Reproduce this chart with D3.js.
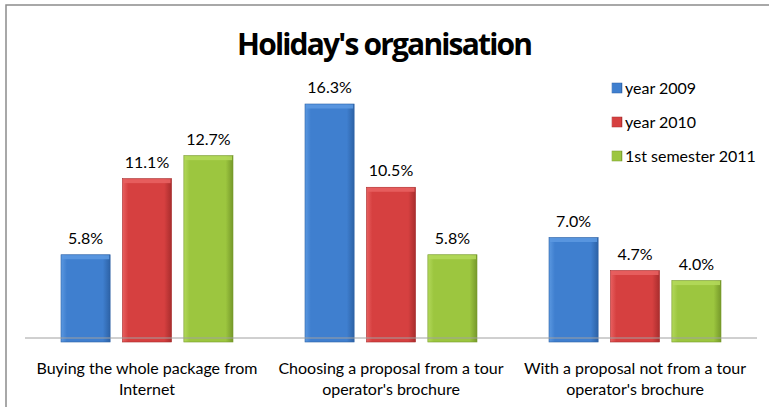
<!DOCTYPE html>
<html>
<head>
<meta charset="utf-8">
<script src="https://cdn.jsdelivr.net/npm/d3@7"></script>
<style>
  body { margin: 0; background: #fff; }
  svg text { font-family: Lato, "Open Sans", sans-serif; fill: #000; }
</style>
</head>
<body>
<div id="chart"></div>
<script>
// data
const categories = [
  ["Buying the whole package from", "Internet"],
  ["Choosing a proposal from a tour", "operator's brochure"],
  ["With a proposal not from a tour", "operator's brochure"]
]
const seriesNames = ["year 2009", "year 2010", "1st semester 2011"]
const year2009 = [5.8, 16.3, 7.0]
const year2010 = [11.1, 10.5, 4.7]
const sem2011 = [12.7, 5.8, 4.0]

const colors = [
  { light: "#5b98e0", mid: "#3f7fcf", dark: "#2d62a6" },
  { light: "#e86060", mid: "#d64040", dark: "#a82d2d" },
  { light: "#b2d85a", mid: "#9cc63f", dark: "#76992a" }
]

const width = 769, height = 407
const margin = { top: 104, right: 12, bottom: 65, left: 25 }
const plotW = width - margin.left - margin.right
const plotH = height - margin.top - margin.bottom

const svg = d3.select('#chart')
  .append('svg')
  .attr('width', width)
  .attr('height', height)

// frame
svg.append('rect')
  .attr('x', 6).attr('y', 5)
  .attr('width', 780).attr('height', 420)
  .attr('fill', 'none')
  .attr('stroke', '#8c8c8c')
  .attr('stroke-width', 1.5)

const defs = svg.append('defs')
colors.forEach((c, i) => {
  const g = defs.append('linearGradient').attr('id', 'grad' + i)
    .attr('x1', '0%').attr('x2', '100%').attr('y1', '0%').attr('y2', '0%')
  g.append('stop').attr('offset', '0%').attr('stop-color', c.light)
  g.append('stop').attr('offset', '12%').attr('stop-color', c.mid)
  g.append('stop').attr('offset', '85%').attr('stop-color', c.mid)
  g.append('stop').attr('offset', '100%').attr('stop-color', c.dark)
})

svg.append('text')
  .attr('x', 385).attr('y', 55)
  .attr('text-anchor', 'middle')
  .style('font-size', '30px')
  .style('font-weight', 'bold')
  .style('font-family', '"Open Sans", Lato, sans-serif')
  .attr('textLength', 296)
  .text("Holiday's organisation")

const g = svg.append('g')
  .attr('transform', `translate(${margin.left},${margin.top})`)

const x0 = d3.scaleBand()
  .domain(d3.range(categories.length))
  .range([0, plotW])

const x1 = d3.scaleBand()
  .domain(d3.range(seriesNames.length))
  .range([36, x0.bandwidth() - 36])
  .paddingInner(0.2)

const y = d3.scaleLinear()
  .domain([0, 16.3])
  .range([plotH - 4, 0])

const allSeries = [year2009, year2010, sem2011]

categories.forEach((cat, ci) => {
  const grp = g.append('g').attr('transform', `translate(${x0(ci)},0)`)
  allSeries.forEach((vals, si) => {
    const v = vals[ci]
    const bx = x1(si), bw = x1.bandwidth()
    const by = y(v) , bh = plotH - y(v)
    grp.append('rect')
      .attr('x', bx).attr('y', by)
      .attr('width', bw).attr('height', bh)
      .attr('fill', `url(#grad${si})`)
      .attr('stroke', colors[si].dark)
      .attr('stroke-width', 0.6)
    // top bevel highlight
    grp.append('rect')
      .attr('x', bx + 1).attr('y', by + 0.5)
      .attr('width', bw - 2).attr('height', 4)
      .attr('fill', colors[si].light)
      .attr('opacity', 0.9)
    grp.append('text')
      .attr('x', bx + bw / 2)
      .attr('y', by - 11)
      .attr('text-anchor', 'middle')
      .style('font-size', '16px')
      .text(v.toFixed(1) + '%')
  })
})

// baseline
g.append('line')
  .attr('x1', 0).attr('x2', plotW)
  .attr('y1', plotH - 4).attr('y2', plotH - 4)
  .attr('stroke', '#a0a0a0')
  .attr('stroke-width', 1)

// category labels
categories.forEach((cat, ci) => {
  const t = g.append('text')
    .attr('x', x0(ci) + x0.bandwidth() / 2)
    .attr('y', plotH + 32)
    .attr('text-anchor', 'middle')
    .style('font-size', '16px')
  cat.forEach((line, li) => {
    t.append('tspan')
      .attr('x', x0(ci) + x0.bandwidth() / 2)
      .attr('dy', li === 0 ? 0 : 21)
      .text(line)
  })
})

// legend
const legend = svg.append('g').attr('transform', 'translate(612,88)')
seriesNames.forEach((name, i) => {
  const row = legend.append('g').attr('transform', `translate(0,${i * 34})`)
  row.append('rect')
    .attr('x', 0).attr('y', -5)
    .attr('width', 10).attr('height', 10)
    .attr('fill', `url(#grad${i})`)
    .attr('stroke', colors[i].dark)
    .attr('stroke-width', 0.5)
  row.append('text')
    .attr('x', 13).attr('y', 5.5)
    .style('font-size', '16px')
    .text(name)
})
</script>
</body>
</html>
